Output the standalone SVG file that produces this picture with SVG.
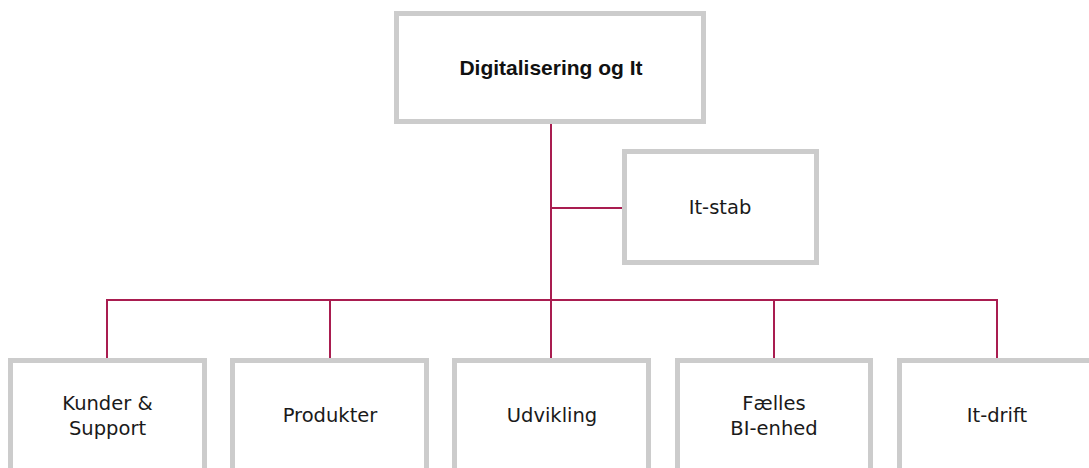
<svg xmlns="http://www.w3.org/2000/svg" width="1089" height="468" viewBox="0 0 1089 468">
<style>
.box{fill:#fff;stroke:#cccccc;stroke-width:5}
.lbl{font-family:"DejaVu Sans","Liberation Sans",sans-serif;font-size:19.5px;fill:#1a1a1a;text-anchor:middle}
.ttl{font-family:"Liberation Sans",Arial,sans-serif;font-weight:bold;font-size:21px;fill:#111;text-anchor:middle}
.con{fill:none;stroke:#a91d50;stroke-width:2}
</style>
<rect width="1089" height="468" fill="#fff"/>
<g id="connectors">
<path class="con" d="M551,124V300"/>
<path class="con" d="M551,208H623"/>
<path class="con" d="M107,358V300H997V358"/>
<path class="con" d="M330,300V358"/>
<path class="con" d="M551,300V358"/>
<path class="con" d="M774,300V358"/>
</g>
<g id="digitalisering">
<rect class="box" x="396.5" y="13.5" width="307" height="108"/>
<text class="ttl" x="551" y="75">Digitalisering og It</text>
</g>
<g id="it-stab">
<rect class="box" x="624.5" y="151.5" width="192" height="111"/>
<text class="lbl" x="720" y="214">It-stab</text>
</g>
<g id="kunder">
<rect class="box" x="10.5" y="360.5" width="194" height="140"/>
<text class="lbl" x="107.5" y="410">Kunder &amp;</text>
<text class="lbl" x="107.5" y="435">Support</text>
</g>
<g id="produkter">
<rect class="box" x="232.5" y="360.5" width="194" height="140"/>
<text class="lbl" x="330" y="422">Produkter</text>
</g>
<g id="udvikling">
<rect class="box" x="454.5" y="360.5" width="194" height="140"/>
<text class="lbl" x="552" y="422">Udvikling</text>
</g>
<g id="faelles">
<rect class="box" x="677.5" y="360.5" width="193" height="140"/>
<text class="lbl" x="774" y="410">Fælles</text>
<text class="lbl" x="774" y="435">BI-enhed</text>
</g>
<g id="it-drift">
<rect class="box" x="899.5" y="360.5" width="194" height="140"/>
<text class="lbl" x="997" y="422">It-drift</text>
</g>
</svg>
